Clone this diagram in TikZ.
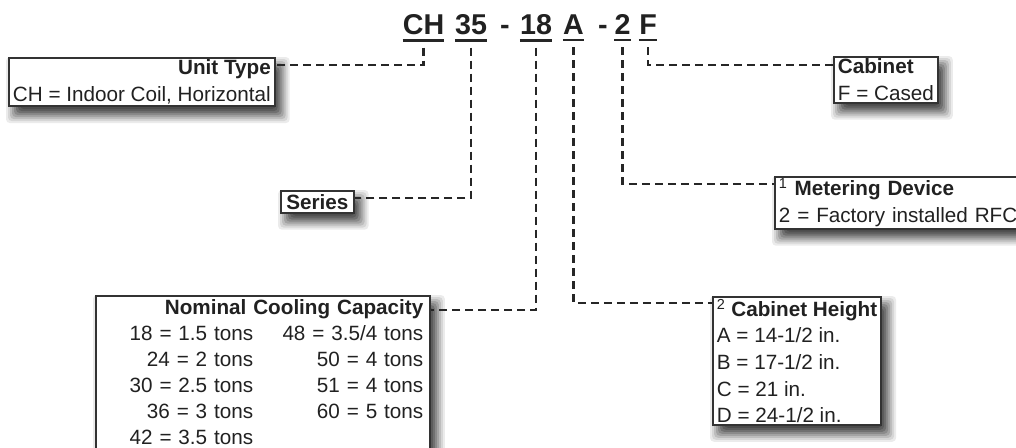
\documentclass[tikz,border=0pt]{standalone}
\usepackage{fontspec}
\setmainfont{Liberation Sans}
\usetikzlibrary{backgrounds,calc}

\begin{document}
\begin{tikzpicture}[x=0.75pt,y=-0.75pt,
    every node/.style={text=black!87},
    codeseg/.style={font=\fontsize{21.5}{24}\selectfont\bfseries,inner sep=0pt,anchor=base},
    codebox/.style={draw=black!80,line width=1.4pt,fill=white,anchor=north west,
      inner xsep=3pt,inner ysep=1.5pt,font=\fontsize{15.5}{20}\selectfont},
    leader/.style={draw=black!85,line width=1.7pt,dash pattern=on 6pt off 3.75pt},
    uline/.style={draw=black!85,line width=1.8pt}]

  \useasboundingbox (0,0) rectangle (1016,447);

  % model number
  \node[codeseg] (segCH) at (423.5,34) {CH};
  \node[codeseg] (seg35) at (471,34) {35};
  \node[codeseg] (dashA) at (505,34) {-};
  \node[codeseg] (seg18) at (536,34) {18};
  \node[codeseg] (segA) at (573.5,34) {A};
  \node[codeseg] (dashB) at (603,34) {-};
  \node[codeseg] (seg2) at (622.5,34) {2};
  \node[codeseg] (segF) at (648,34) {F};
  \foreach \s in {segCH,seg35,seg18,segA,seg2,segF}
    \draw[uline] ([yshift=-4.5pt]\s.south west) -- ([yshift=-4.5pt]\s.south east);

  % explanation boxes
  \node[codebox,align=right] (unit) at (8,57)
    {\textbf{Unit Type}\\CH = Indoor Coil, Horizontal};
  \node[codebox,align=left] (cab) at (833,56)
    {\textbf{Cabinet}\\F = Cased};
  \node[codebox,inner ysep=2.5pt,inner xsep=4pt] (series) at (280,190) {\textbf{Series}};
  \node[codebox,align=left,text width=190pt] (meter) at (774,176)
    {\textsuperscript{1} \textbf{Metering Device}\\2 = Factory installed RFC};
  \node[codebox,align=right,text width=240.5pt,inner xsep=5pt,inner ysep=0pt,
        font=\fontsize{15.5}{19.5}\selectfont] (nom) at (95,295)
    {\begin{tabular}{@{}r@{\hspace{22pt}}r@{}}
       \multicolumn{2}{@{}r@{}}{\textbf{Nominal Cooling Capacity}}\\
       18 = 1.5 tons & 48 = 3.5/4 tons\\
       24 = 2 tons   & 50 = 4 tons\\
       30 = 2.5 tons & 51 = 4 tons\\
       36 = 3 tons   & 60 = 5 tons\\
       42 = 3.5 tons & \\
     \end{tabular}};
  \node[codebox,align=left] (cabh) at (712,296)
    {\textsuperscript{2} \textbf{Cabinet Height}\\A = 14-1/2 in.\\B = 17-1/2 in.\\C = 21 in.\\D = 24-1/2 in.};

  % soft shadows
  \begin{pgfonlayer}{background}
    \foreach \b in {unit,cab,series,meter,nom,cabh}
      \foreach \e/\k in {8/8,6/16,4/26,2/36,0/46,-2/56,-4/64,-6/70}
        \fill[black!\k!white,rounded corners=3pt]
          ($(\b.north west)+({6-(\e)},{8-(\e)})$) rectangle ($(\b.south east)+({6+(\e)},{8+(\e)})$);
  \end{pgfonlayer}

  % leaders
  \draw[leader] ([yshift=-9.75pt]segCH.south) |- ([yshift=-6pt]unit.north east);
  \draw[leader] ([yshift=-9.75pt]seg35.south) |- ([yshift=3pt]series.east);
  \draw[leader] ([yshift=-9.75pt]seg18.south) |- ([yshift=-11pt]nom.north east);
  \draw[leader] ([yshift=-9.75pt]segA.south) |- ([yshift=-5.25pt]cabh.north west);
  \draw[leader] ([yshift=-9.75pt]seg2.south) |- ([yshift=-6pt]meter.north west);
  \draw[leader] ([yshift=-9.75pt]segF.south) |- ([yshift=-6.75pt]cab.north west);
\end{tikzpicture}
\end{document}
